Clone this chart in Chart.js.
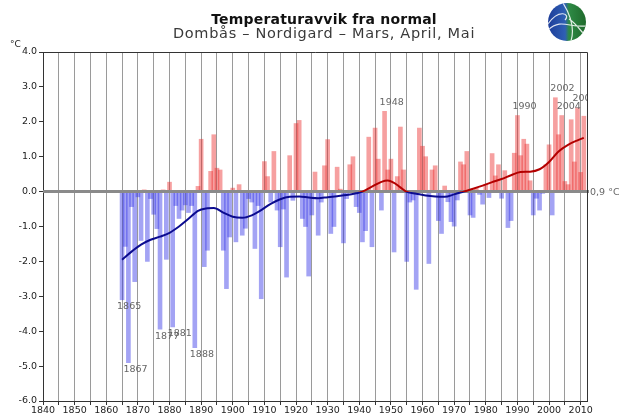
<!DOCTYPE html>
<html>
<head>
<meta charset="utf-8">
<script src="https://cdn.jsdelivr.net/npm/chart.js@4/dist/chart.umd.min.js"></script>
<style>
  body { margin: 0; background: #fff; }
  canvas { display: block; }
</style>
</head>
<body>
<canvas id="avvik" width="619" height="416"></canvas>
<script>
// spring (MAM) temperature anomaly, Dombås - Nordigard, °C vs normal
const firstYear = 1865;
const anomalies = [
  -3.1, -1.57, -4.9, -0.43, -2.58,                              // 1865-69
  -0.15, -1.4, 0.05, -2.0, -0.2, -0.65, -1.06, -3.94, 0.05, -1.94, // 1870s
  0.27, -3.88, -0.4, -0.77, -0.53, -0.38, -0.6, -0.4, -4.47, 0.15, // 1880s
  1.5, -2.15, -1.68, 0.58, 1.63, 0.67, 0.62, -1.68, -2.78, -1.3,   // 1890s
  0.1, -1.44, 0.2, -1.25, -1.05, -0.2, -0.3, -1.63, -0.4, -3.07,   // 1900s
  0.86, 0.43, -0.3, 1.15, -0.53, -1.58, -0.5, -2.45, 1.03, -0.25,  // 1910s
  1.95, 2.04, -0.77, -1.0, -2.42, -0.67, 0.56, -1.25, -0.3, 0.74,  // 1920s
  1.49, -1.2, -1.0, 0.7, 0.07, -1.47, -0.2, 0.77, 1.0, -0.43,      // 1930s
  -0.6, -1.44, -1.12, 1.56, -1.58, 1.82, 0.93, -0.53, 2.3, 0.62,   // 1940s
  0.93, -1.73, 0.43, 1.85, 0.62, -2.0, -0.3, -0.24, -2.8, 1.82,    // 1950s
  1.3, 1.0, -2.06, 0.62, 0.74, -0.83, -1.2, 0.16, -0.29, -0.86,    // 1960s
  -0.99, -0.24, 0.85, 0.77, 1.15, -0.67, -0.74, 0.1, -0.08, -0.36, // 1970s
  0.2, -0.17, 1.09, 0.45, 0.77, -0.19, 0.6, -1.03, -0.83, 1.1,     // 1980s
  2.18, 1.03, 1.5, 1.36, 0.31, -0.67, -0.19, -0.53, -0.05, 0.77,   // 1990s
  1.34, -0.67, 2.69, 1.63, 2.18, 0.29, 0.2, 2.06, 0.85, 2.4,       // 2000s
  0.55, 2.16                                                      // 2010-11
];

const smoothYears = [1865, 1868, 1871, 1874, 1877, 1880, 1883, 1886, 1889, 1892, 1894, 1897,
  1900, 1903, 1906, 1909, 1912, 1915, 1918, 1921, 1924, 1927, 1930, 1933, 1936, 1939, 1941,
  1944, 1947, 1949, 1951, 1953, 1955, 1958, 1961, 1964, 1967, 1970, 1973, 1976, 1979, 1982,
  1985, 1988, 1991, 1994, 1997, 2000, 2003, 2006, 2009, 2011];
const smoothValues = [-1.95, -1.72, -1.52, -1.38, -1.29, -1.18, -1.0, -0.78, -0.55, -0.48, -0.47, -0.6,
  -0.72, -0.75, -0.68, -0.53, -0.35, -0.22, -0.15, -0.14, -0.17, -0.19, -0.16, -0.13, -0.1, -0.05, 0.0,
  0.14, 0.28, 0.32, 0.25, 0.12, -0.01, -0.06, -0.11, -0.14, -0.15, -0.08, 0.0, 0.08, 0.17, 0.27,
  0.36, 0.47, 0.56, 0.57, 0.64, 0.85, 1.15, 1.34, 1.47, 1.54];

const coldYears = [1865, 1867, 1877, 1881, 1888];
const warmYears = [1948, 1990, 2002, 2004, 2009];

const yTicks = [-6, -5, -4, -3, -2, -1, 0, 1, 2, 3, 4];
const xFirstTick = 1840, xLastTick = 2010, xTickStep = 5;
const normalLabel = "0,9 °C";

const years = anomalies.map((v, i) => firstYear + i);
const barPoints = years.map((yr, i) => ({ x: yr, y: anomalies[i] }));
const smoothPoints = smoothYears.map((yr, i) => ({ x: yr, y: smoothValues[i] }));

const FONT = "'DejaVu Sans', Verdana, sans-serif";

// red above the zero line, blue below
function splitGradient(context) {
  const chart = context.chart;
  const area = chart.chartArea;
  if (!area) return "#0b0b8f";
  const y0 = chart.scales.y.getPixelForValue(0);
  const f = Math.min(1, Math.max(0, (y0 - area.top) / (area.bottom - area.top)));
  const g = chart.ctx.createLinearGradient(0, area.top, 0, area.bottom);
  g.addColorStop(0, "#b30000");
  g.addColorStop(f, "#b30000");
  g.addColorStop(f, "#0b0b8f");
  g.addColorStop(1, "#0b0b8f");
  return g;
}

const decor = {
  id: "decor",
  afterDatasetDraw(chart, args) {
    if (args.index !== 0) return;
    // grey zero line on top of the bars
    const { ctx, chartArea: a, scales } = chart;
    const y0 = scales.y.getPixelForValue(0);
    ctx.save();
    ctx.strokeStyle = "#8a8a8a";
    ctx.lineWidth = 3;
    ctx.beginPath();
    ctx.moveTo(a.left, y0);
    ctx.lineTo(a.right + 2, y0);
    ctx.stroke();
    ctx.restore();
  },
  afterDatasetsDraw(chart) {
    const { ctx, chartArea: a, scales } = chart;
    const xs = scales.x, ys = scales.y;
    ctx.save();
    ctx.beginPath();
    ctx.rect(a.left, a.top, a.right - a.left, a.bottom - a.top);
    ctx.clip();
    ctx.font = "9.5px " + FONT;
    ctx.fillStyle = "#666";
    ctx.textAlign = "left";
    ctx.textBaseline = "middle";
    coldYears.forEach(yr => {
      const v = anomalies[yr - firstYear];
      ctx.fillText(String(yr), xs.getPixelForValue(yr) - 5, ys.getPixelForValue(v) + 7);
    });
    warmYears.forEach(yr => {
      const v = anomalies[yr - firstYear];
      ctx.fillText(String(yr), xs.getPixelForValue(yr) - 5, ys.getPixelForValue(v) - 9);
    });
    ctx.restore();

    // frame: top and right edges
    ctx.save();
    ctx.strokeStyle = "#333";
    ctx.lineWidth = 1;
    ctx.beginPath();
    ctx.moveTo(a.left, a.top + 0.5);
    ctx.lineTo(a.right + 0.5, a.top + 0.5);
    ctx.lineTo(a.right + 0.5, a.bottom);
    ctx.stroke();
    ctx.restore();
  },
  afterDraw(chart) {
    const { ctx, scales } = chart;
    ctx.save();
    ctx.fillStyle = "#111";
    ctx.textAlign = "center";
    ctx.textBaseline = "alphabetic";
    ctx.font = "bold 14px " + FONT;
    ctx.letterSpacing = "0.2px";
    ctx.fillText("Temperaturavvik fra normal", 324, 24);
    ctx.font = "14.5px " + FONT;
    ctx.letterSpacing = "0.7px";
    ctx.fillStyle = "#3a3a3a";
    ctx.fillText("Dombås – Nordigard – Mars, April, Mai", 324, 38);
    ctx.letterSpacing = "0px";

    ctx.textBaseline = "middle";
    ctx.font = "9px " + FONT;
    ctx.fillStyle = "#222";
    ctx.textAlign = "left";
    ctx.fillText("°C", 10, 45);

    ctx.fillStyle = "#666";
    ctx.font = "9.5px " + FONT;
    ctx.fillText(normalLabel, 590, scales.y.getPixelForValue(0) + 1);

    // globe logo
    const cx = 567, cy = 22, r = 19;
    ctx.save();
    ctx.beginPath();
    ctx.arc(cx, cy, r, 0, Math.PI * 2);
    ctx.clip();
    const g = ctx.createLinearGradient(cx - r, cy, cx + r, cy);
    g.addColorStop(0, "#1d3d99");
    g.addColorStop(0.45, "#2f5fb5");
    g.addColorStop(0.55, "#2e8a45");
    g.addColorStop(1, "#1f6a2c");
    ctx.fillStyle = g;
    ctx.fillRect(cx - r, cy - r, 2 * r, 2 * r);
    ctx.strokeStyle = "rgba(255,255,255,0.85)";
    ctx.lineWidth = 1.2;
    ctx.beginPath();
    ctx.moveTo(cx - r, cy + 2);
    ctx.bezierCurveTo(cx - 8, cy - 14, cx + 4, cy - 8, cx - 2, cy - 2);
    ctx.moveTo(cx - r, cy + 8);
    ctx.bezierCurveTo(cx - 6, cy - 4, cx + 2, cy + 6, cx + r, cy + 4);
    ctx.moveTo(cx - 4, cy - r);
    ctx.bezierCurveTo(cx + 4, cy - 6, cx + 8, cy + 6, cx + 4, cy + r);
    ctx.moveTo(cx + 2, cy - 3);
    ctx.bezierCurveTo(cx + 10, cy + 2, cx + 14, cy + 10, cx + r, cy + 14);
    ctx.stroke();
    ctx.restore();
    ctx.restore();
  }
};

new Chart(document.getElementById("avvik"), {
  data: {
    datasets: [
      {
        type: "bar",
        data: barPoints,
        order: 2,
        barThickness: 4,
        grouped: false,
        backgroundColor: c => (c.raw && c.raw.y >= 0) ? "rgba(235,45,45,0.45)" : "rgba(50,50,230,0.45)",
        borderWidth: 0
      },
      {
        type: "line",
        data: smoothPoints,
        order: 1,
        borderColor: splitGradient,
        borderWidth: 2,
        pointRadius: 0,
        fill: false,
        cubicInterpolationMode: "monotone"
      }
    ]
  },
  options: {
    responsive: false,
    animation: false,
    devicePixelRatio: 1,
    layout: { padding: { top: 52, right: 32, left: 0, bottom: 0 } },
    plugins: { legend: { display: false }, tooltip: { enabled: false }, title: { display: false } },
    scales: {
      x: {
        type: "linear",
        offset: false,
        min: 1840,
        max: 2012,
        afterBuildTicks: s => {
          const t = [];
          for (let v = xFirstTick; v <= xLastTick; v += xTickStep) t.push({ value: v });
          s.ticks = t;
        },
        afterFit: s => { s.height = 15; },
        ticks: {
          autoSkip: false,
          maxRotation: 0,
          padding: 0,
          color: "#222",
          font: { family: FONT, size: 9.5 },
          callback: v => (v % 10 === 0 ? String(v) : "")
        },
        grid: { offset: false, color: "#9a9a9a", lineWidth: 1, tickLength: 4, tickColor: "#333" },
        border: { color: "#333", width: 1 }
      },
      y: {
        min: -6,
        max: 4,
        afterBuildTicks: s => { s.ticks = yTicks.map(v => ({ value: v })); },
        afterFit: s => { s.width = 43; },
        ticks: {
          padding: 2,
          color: "#222",
          font: { family: FONT, size: 9.5 },
          callback: v => v.toFixed(1)
        },
        grid: { color: "rgba(0,0,0,0)", tickLength: 4, tickColor: "#333" },
        border: { color: "#333", width: 1 }
      }
    }
  },
  plugins: [decor]
});
</script>
</body>
</html>
